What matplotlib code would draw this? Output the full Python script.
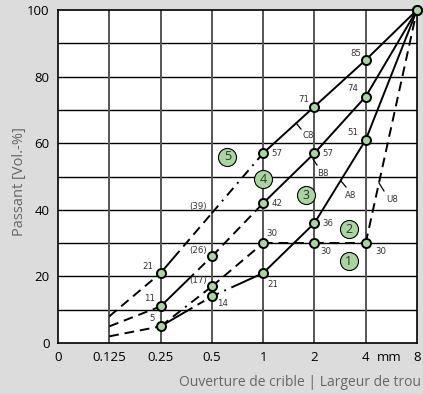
import matplotlib
matplotlib.use("Agg")
import matplotlib.pyplot as plt

# ---------------- data ----------------
x_ticks = [0.0625, 0.125, 0.25, 0.5, 1, 2, 4, 8]
x_tick_labels = ["0", "0.125", "0.25", "0.5", "1", "2", "4", "8"]
y_ticks = [0, 20, 40, 60, 80, 100]

c8_x = [0.125, 0.25, 0.5, 1, 2, 4, 8]
c8_y = [8, 21, 39, 57, 71, 85, 100]
c8_labels = ["", "21", "(39)", "57", "71", "85", ""]

b8_x = [0.125, 0.25, 0.5, 1, 2, 4, 8]
b8_y = [5, 11, 26, 42, 57, 74, 100]
b8_labels = ["", "11", "(26)", "42", "57", "74", ""]

a8_x = [0.125, 0.25, 0.5, 1, 2, 4, 8]
a8_y = [2, 5, 14, 21, 36, 61, 100]
a8_labels = ["", "5", "14", "21", "36", "51", ""]

u8_x = [0.25, 0.5, 1, 2, 4, 8]
u8_y = [5, 17, 30, 30, 30, 100]
u8_labels = ["", "(17)", "30", "30", "30", ""]

zone_names = ["1", "2", "3", "4", "5"]
zone_x = [3.18, 3.18, 1.78, 1.0, 0.616]
zone_y = [24.6, 34.2, 44.4, 49.2, 55.9]

curve_names = ["C8", "B8", "A8", "U8"]

# ---------------- styles ----------------
DASH = (0, (5, 3))
DASHDOT = (0, (5, 3, 1, 3))
c8_styles = [DASH, (0, (15, 3, 5, 3, 5, 3, 5, 3)), DASHDOT, "-", "-", "-"]
b8_styles = [DASH, (0, (24, 3, 5, 3, 5, 3)), DASH, "-", "-", "-"]
a8_styles = [DASH, (0, (19, 3, 4, 3, 1, 3, 10, 1)), (0, (4, 3, 1, 3, 40, 1)), "-", "-", "-"]
u8_styles = [(0, (5, 3, 5, 3, 1, 3, 5, 3)), DASH, DASH, DASH, DASH]

c8_marks = [False, True, False, True, True, True, True]
b8_marks = [False, True, True, True, True, True, True]
a8_marks = [False, True, True, True, True, True, False]
u8_marks = [False, True, True, True, True, False]

# label offsets in points (dx, dy)
c8_off = [None, (-9, 5), (-10, 5), (10, 0), (-8, 5), (-7, 5), None]
b8_off = [None, (-8, 6), (-10, 4), (10, 0), (10, 0), (-9, 6), None]
a8_off = [None, (-6, 6), (8, -5), (7, -8), (10, 0), (-9, 5), None]
u8_off = [None, (-10, 4), (6, 7), (8, -6), (11, -6), None]

# curve-name tick (two ends) and label position, in figure pixels
name_tick_px = {
    "C8": ((296, 123), (301, 129), (308, 136)),
    "B8": ((313, 159), (317, 165), (323, 173)),
    "A8": ((341, 181), (346, 187), (351, 195)),
    "U8": ((379, 183), (384, 191), (392, 199)),
}

BG = "#dcdcdc"
GREEN = "#a8d5a0"
TXT = "#333333"

W, H = 423, 394
fig = plt.figure(figsize=(W / 100, H / 100), dpi=100, facecolor=BG)
ax = fig.add_axes([58 / W, 1 - 343 / H, (417 - 58) / W, (343 - 10) / H])
ax.set_facecolor("white")
ax.set_xscale("log", base=2)
ax.set_xlim(0.0625, 8)
ax.set_ylim(0, 100)

# grid
for yv in range(10, 100, 10):
    ax.axhline(yv, color="black", lw=1.0, zorder=1)
for xv in x_ticks[1:-1]:
    ax.axvline(xv, color="#555555", lw=1.4, zorder=1)
for s in ax.spines.values():
    s.set_color("black")
    s.set_linewidth(1.2)

ax.set_xticks(x_ticks)
ax.set_xticklabels(x_tick_labels)
ax.set_yticks(y_ticks)
ax.minorticks_off()
ax.tick_params(length=0, labelsize=9.5, colors="black", pad=6)
for lbl in ax.get_xticklabels() + ax.get_yticklabels():
    lbl.set_fontfamily("Open Sans")
ax.annotate("mm", xy=(2 ** 2.45, 0), xycoords=("data", "axes fraction"),
            xytext=(0, -6), textcoords="offset points", ha="center", va="top",
            fontsize=9.5, family="Open Sans", annotation_clip=False)

curves = [
    (c8_x, c8_y, c8_labels, c8_styles, c8_marks, c8_off),
    (b8_x, b8_y, b8_labels, b8_styles, b8_marks, b8_off),
    (a8_x, a8_y, a8_labels, a8_styles, a8_marks, a8_off),
    (u8_x, u8_y, u8_labels, u8_styles, u8_marks, u8_off),
]

for xs, ys, labels, styles, marks, offs in curves:
    for i in range(len(xs) - 1):
        ax.plot(xs[i:i + 2], ys[i:i + 2], color="black", lw=1.4,
                linestyle=styles[i], zorder=3, solid_capstyle="butt",
                dash_capstyle="butt")
    mx = [x for x, m in zip(xs, marks) if m]
    my = [y for y, m in zip(ys, marks) if m]
    ax.plot(mx, my, "o", ms=6.5, mfc=GREEN, mec="black", mew=1.4, zorder=5,
            clip_on=False)
    for x, y, t, o in zip(xs, ys, labels, offs):
        if t and o is not None:
            ax.annotate(t, (x, y), xytext=o, textcoords="offset points",
                        ha="center", va="center", fontsize=6.2, color=TXT,
                        zorder=6)

# curve names with small ticks (figure-pixel placement)
def fpx(p):
    return (p[0] / W, 1 - p[1] / H)

for name in curve_names:
    p0, p1, pt = name_tick_px[name]
    a, b = fpx(p0), fpx(p1)
    fig.add_artist(plt.Line2D([a[0], b[0]], [a[1], b[1]], color="black",
                              lw=0.9, transform=fig.transFigure))
    c = fpx(pt)
    fig.text(c[0], c[1], name, ha="center", va="center", fontsize=6.2,
             color=TXT)

# zone circles
for n, zx, zy in zip(zone_names, zone_x, zone_y):
    ax.plot([zx], [zy], "o", ms=13, mfc=GREEN, mec="black", mew=0.8, zorder=4)
    ax.text(zx, zy, n, ha="center", va="center", fontsize=9, color=TXT,
            family="Open Sans", zorder=6)

fig.text(19 / W, 1 - 182 / H, "Passant [Vol.-%]", rotation=90,
         ha="center", va="center", fontsize=10.5, color="#666666",
         family="Open Sans")
fig.text(421 / W, 1 - 383 / H, "Ouverture de crible | Largeur de trou",
         ha="right", va="center", fontsize=10, color="#666666",
         family="Open Sans")

fig.savefig("out.png", dpi=100, facecolor=BG)
